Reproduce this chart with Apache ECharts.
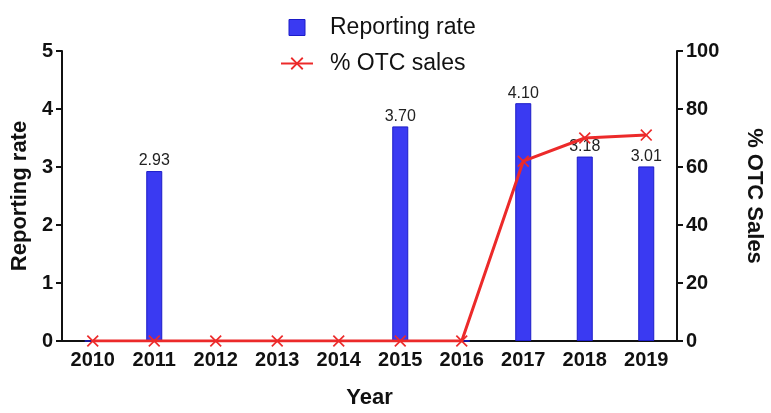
<!DOCTYPE html>
<html><head><meta charset="utf-8">
<script src="https://cdn.jsdelivr.net/npm/echarts@6/dist/echarts.min.js"></script>
<style>html,body{margin:0;padding:0;background:#fff}#c{width:771px;height:413px}</style>
</head><body><div id="c"></div>
<script>
const years = ['2010','2011','2012','2013','2014','2015','2016','2017','2018','2019'];
const reportingRate = [0, 2.93, 0, 0, 0, 3.70, 0, 4.10, 3.18, 3.01];
const otcSales = [0, 0, 0, 0, 0, 0, 0, 62, 70, 71];
const leftTicks = [0, 1, 2, 3, 4, 5];
const rightTicks = [0, 20, 40, 60, 80, 100];

const F = 'Liberation Sans, Arial, sans-serif';
const crossPath = 'path://M1,0L5,4L9,0L10,1L6,5L10,9L9,10L5,6L1,10L0,9L4,5L0,1Z';
const chart = echarts.init(document.getElementById('c'));
chart.setOption({
  animation: false,
  textStyle: { fontFamily: F },
  legend: {
    orient: 'vertical', left: 275, top: 11, itemGap: 13,
    itemWidth: 32, itemHeight: 16,
    textStyle: { fontFamily: F, fontSize: 23, color: '#111', padding: [0, 0, 0, 12] },
    data: [
      { name: 'Reporting rate', icon: 'path://M0,0H10V10H0Z', itemStyle: { color: '#3a3af2', borderColor: '#1c1cc8', borderWidth: 1 } },
      { name: '% OTC sales' }
    ]
  },
  grid: { left: 62, right: 94, top: 51, bottom: 72, outerBoundsMode: 'none', containLabel: false },
  xAxis: {
    type: 'category', data: years,
    name: 'Year', nameLocation: 'middle', nameGap: 46,
    nameTextStyle: { fontFamily: F, fontSize: 22, fontWeight: 'bold', color: '#111' },
    axisLine: { lineStyle: { color: '#111', width: 2 } },
    axisTick: { alignWithLabel: true, length: 6, lineStyle: { color: '#111', width: 2 } },
    axisLabel: { fontFamily: F, fontSize: 20, fontWeight: 'bold', color: '#111', margin: 9 }
  },
  yAxis: [
    {
      type: 'value', min: leftTicks[0], max: leftTicks[leftTicks.length-1], interval: 1,
      name: 'Reporting rate', nameLocation: 'middle', nameGap: 28,
      nameTextStyle: { fontFamily: F, fontSize: 22, fontWeight: 'bold', color: '#111' },
      axisLine: { show: true, lineStyle: { color: '#111', width: 2 } },
      axisTick: { show: true, length: 6, lineStyle: { color: '#111', width: 2 } },
      axisLabel: { fontFamily: F, fontSize: 20, fontWeight: 'bold', color: '#111', margin: 9 },
      splitLine: { show: false }
    },
    {
      type: 'value', position: 'right', min: rightTicks[0], max: rightTicks[rightTicks.length-1], interval: 20,
      name: '% OTC Sales', nameLocation: 'middle', nameGap: 66, nameRotate: -90,
      nameTextStyle: { fontFamily: F, fontSize: 22, fontWeight: 'bold', color: '#111' },
      axisLine: { show: true, lineStyle: { color: '#111', width: 2 } },
      axisTick: { show: true, length: 6, lineStyle: { color: '#111', width: 2 } },
      axisLabel: { fontFamily: F, fontSize: 20, fontWeight: 'bold', color: '#111', margin: 9 },
      splitLine: { show: false }
    }
  ],
  series: [
    {
      name: 'Reporting rate', type: 'bar', yAxisIndex: 0, barWidth: 16,
      data: reportingRate,
      itemStyle: { color: '#3a3af2', borderColor: '#1c1cc8', borderWidth: 1 },
      label: {
        show: true, position: 'top', distance: 2, fontFamily: F, fontSize: 16, color: '#222',
        formatter: p => p.value > 0 ? p.value.toFixed(2) : ''
      }
    },
    {
      name: '% OTC sales', type: 'line', yAxisIndex: 1,
      data: otcSales, symbol: crossPath, symbolSize: 12,
      lineStyle: { color: '#ec2a2a', width: 3 },
      itemStyle: { color: '#ec2a2a' }
    }
  ]
});
</script></body></html>
